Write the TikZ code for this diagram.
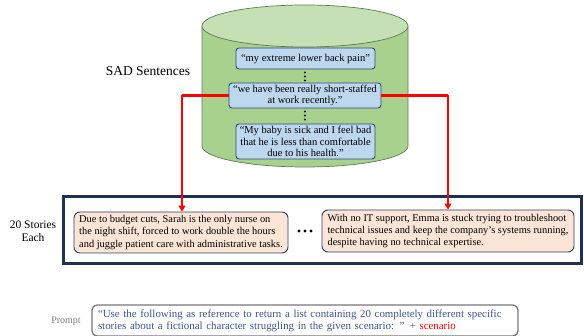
\documentclass[tikz,border=0pt]{standalone}
\usepackage{fontspec}
\setmainfont{Liberation Serif}
\usetikzlibrary{arrows.meta}
\definecolor{cylbody}{HTML}{A9D18E}
\definecolor{cyltop}{HTML}{C5E0B4}
\definecolor{cylline}{HTML}{5F7A52}
\definecolor{sentfill}{HTML}{BDD7EE}
\definecolor{sentline}{HTML}{2F4A78}
\definecolor{storyfill}{HTML}{FBE5D6}
\definecolor{storyline}{HTML}{2F3F63}
\definecolor{navy}{HTML}{1F3050}
\definecolor{promptline}{HTML}{767676}
\definecolor{prompttext}{HTML}{3B5590}
\definecolor{arrowred}{HTML}{FF0000}
\begin{document}
\begin{tikzpicture}[x=1pt,y=1pt,
  sentbox/.style={draw=sentline, line width=0.9pt, fill=sentfill, rounded corners=3pt,
    align=center, inner sep=0pt, font=\fontsize{10.5}{11.3}\selectfont},
  storybox/.style={draw=storyline, line width=0.9pt, fill=storyfill, rounded corners=6pt,
    align=left, inner sep=0pt, font=\fontsize{10.4}{12.3}\selectfont},
  redline/.style={draw=arrowred, line width=2.2pt},
  redarrow/.style={redline, -{Triangle[length=6pt,width=7pt]}},
  label/.style={font=\fontsize{11.5}{13}\selectfont, align=center},
  dotmark/.style={circle, fill=black, inner sep=0pt, minimum size=2.4pt},
  bigdot/.style={circle, fill=black, inner sep=0pt, minimum size=3.2pt}
]
\useasboundingbox (0,0) rectangle (584,-336);

% cylinder
\fill[cylbody] (202,-26) -- (202,-146) arc[start angle=180,end angle=360,x radius=103,y radius=21] -- (408,-26) -- cycle;
\draw[cylline, line width=0.7pt] (202,-26) -- (202,-146) arc[start angle=180,end angle=360,x radius=103,y radius=21] -- (408,-26);
\draw[cylline, line width=0.7pt, fill=cyltop] (305,-26) ellipse [x radius=103, y radius=21];

\node[font=\fontsize{13.5}{15}\selectfont] (sad) at (148,-71) {SAD Sentences};

\node[sentbox, minimum width=139pt, minimum height=21pt] (s1) at (305.5,-58.5) {“my extreme lower back pain”};
\node[sentbox, minimum width=152pt, minimum height=25pt] (s2) at (305,-95.5) {“we have been really short-staffed\\at work recently."};
\node[sentbox, minimum width=139pt, minimum height=35pt] (s3) at (305.5,-141.5) {“My baby is sick and I feel bad\\that he is less than comfortable\\due to his health."};

\foreach \yy [count=\i] in {72.5,76.5,80.5} \node[dotmark] (da\i) at (305,-\yy) {};
\foreach \yy [count=\i] in {111.5,115.5,119.5} \node[dotmark] (db\i) at (305,-\yy) {};

% stories container
\node[draw=navy, line width=3pt, minimum width=518pt, minimum height=67pt, inner sep=0pt] (outer) at (322,-230.5) {};
\node[label] (stories) at (33,-231) {20 Stories\\Each};

\node[storybox, minimum width=214pt, minimum height=41pt] (st1) at (181,-232.5)
 {Due to budget cuts, Sarah is the only nurse on\\the night shift, forced to work double the hours\\and juggle patient care with administrative tasks.};
\node[storybox, minimum width=252pt, minimum height=42pt] (st2) at (448,-231)
 {With no IT support, Emma is stuck trying to troubleshoot\\technical issues and keep the company's systems running,\\despite having no technical expertise.};

\foreach \xx [count=\i] in {299,305,311} \node[bigdot] (e\i) at (\xx,-231) {};

% red connectors
\coordinate (lcorner) at (182,-95.5);
\coordinate (rcorner) at (448,-95.5);
\draw[redline] (s2.west) -- (lcorner);
\draw[redarrow] (lcorner) -- (st1.north -| lcorner);
\draw[redline] (s2.east) -- (rcorner);
\draw[redarrow] (rcorner) -- (st2.north);

% prompt
\node[font=\fontsize{10}{12}\selectfont, text=gray] (plabel) at (66,-321) {Prompt};
\node[draw=promptline, line width=1.3pt, rounded corners=5pt, minimum height=31pt, text width=414pt,
      align=left, inner xsep=6pt, inner ysep=0pt, text=prompttext, font=\fontsize{10.9}{12}\selectfont] (prompt) at (305,-320.5)
 {“Use the following as reference to return a list containing 20 completely different specific\\stories about a fictional character struggling in the given scenario: ” + \textcolor{arrowred}{scenario}};
\end{tikzpicture}
\end{document}
